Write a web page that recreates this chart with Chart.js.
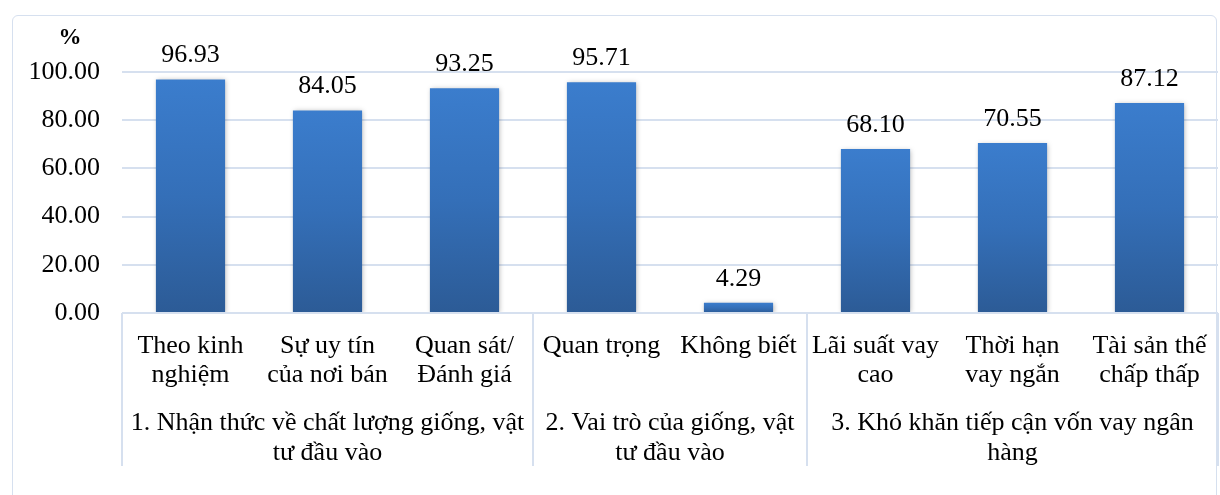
<!DOCTYPE html>
<html lang="vi">
<head>
<meta charset="utf-8">
<title>Nhận thức về giống, vật tư đầu vào và vốn vay</title>
<script src="https://cdn.jsdelivr.net/npm/chart.js@4.4.0/dist/chart.umd.min.js"></script>
<style>
  html, body { margin: 0; padding: 0; background: #ffffff; }
  #wrap { position: relative; width: 1220px; height: 495px; overflow: hidden; }
  #frame {
    position: absolute; left: 12px; top: 15px; width: 1205px; height: 520px;
    border: 1.5px solid #d6e0ef; border-radius: 6px; box-sizing: border-box;
  }
  #c { position: absolute; left: 0; top: 0; }
</style>
</head>
<body>
<div id="wrap">
  <div id="frame"></div>
  <canvas id="c" width="1220" height="495"></canvas>
</div>
<script>
// Category labels (one entry per bar, split into lines)
const CATEGORIES = [
  ["Theo kinh", "nghiệm"],
  ["Sự uy tín", "của nơi bán"],
  ["Quan sát/", "Đánh giá"],
  ["Quan trọng"],
  ["Không biết"],
  ["Lãi suất vay", "cao"],
  ["Thời hạn", "vay ngắn"],
  ["Tài sản thế", "chấp thấp"]
];
// Share of respondents, %
const VALUES = [96.93, 84.05, 93.25, 95.71, 4.29, 68.10, 70.55, 87.12];
// Outer group labels and how many categories each one spans
const GROUP_LABELS = [
  ["1. Nhận thức về chất lượng giống, vật", "tư đầu vào"],
  ["2. Vai trò của giống, vật", "tư đầu vào"],
  ["3. Khó khăn tiếp cận vốn vay ngân", "hàng"]
];
const GROUP_SIZES = [3, 2, 3];
// Value axis ticks
const Y_TICKS = [0, 20, 40, 60, 80, 100];
const UNIT_LABEL = "%";

const FONT = "'Liberation Serif', 'Times New Roman', serif";
const LINE_COLOR = "#d6e0ef";

function barGradient(context) {
  const chart = context.chart;
  const area = chart.chartArea;
  const y = chart.scales.y;
  if (!area || !y) return "#3670b8";
  const v = context.raw;
  const top = y.getPixelForValue(v);
  const bottom = y.getPixelForValue(0);
  const g = chart.ctx.createLinearGradient(0, top, 0, bottom);
  g.addColorStop(0, "#3b7dcd");
  g.addColorStop(0.5, "#346fb8");
  g.addColorStop(1, "#2c5b96");
  return g;
}

// Soft shadow behind the bars
const barShadow = {
  id: "barShadow",
  beforeDatasetDraw(chart) {
    const ctx = chart.ctx;
    ctx.save();
    ctx.shadowColor = "rgba(0,0,0,0.28)";
    ctx.shadowBlur = 5;
    ctx.shadowOffsetX = 1;
    ctx.shadowOffsetY = 1;
  },
  afterDatasetDraw(chart) {
    chart.ctx.restore();
  }
};

// Two-level category axis, value labels and the unit label
const annotations = {
  id: "annotations",
  afterDraw(chart) {
    const ctx = chart.ctx;
    const x = chart.scales.x;
    const area = chart.chartArea;
    const step = (area.right - area.left) / CATEGORIES.length;
    ctx.save();

    // axis line and group separators
    ctx.strokeStyle = LINE_COLOR;
    ctx.lineWidth = 2;
    ctx.beginPath();
    ctx.moveTo(area.left, area.bottom);
    ctx.lineTo(area.right, area.bottom);
    let idx = 0;
    const edges = [area.left];
    GROUP_SIZES.forEach(n => { idx += n; edges.push(area.left + idx * step); });
    edges.forEach(ex => {
      ctx.moveTo(ex, area.bottom);
      ctx.lineTo(ex, area.bottom + 153);
    });
    ctx.stroke();

    ctx.fillStyle = "#000000";
    ctx.textAlign = "center";
    ctx.textBaseline = "alphabetic";
    ctx.font = "26px " + FONT;

    // inner category labels
    CATEGORIES.forEach((lines, i) => {
      const cx = x.getPixelForValue(i);
      lines.forEach((t, k) => ctx.fillText(t, cx, area.bottom + 40 + k * 29));
    });

    // outer group labels
    GROUP_LABELS.forEach((lines, g) => {
      const cx = (edges[g] + edges[g + 1]) / 2;
      lines.forEach((t, k) => ctx.fillText(t, cx, area.bottom + 117 + k * 30));
    });

    // value labels above each bar
    const meta = chart.getDatasetMeta(0);
    meta.data.forEach((bar, i) => {
      ctx.fillText(VALUES[i].toFixed(2), bar.x, bar.y - 17);
    });

    // unit label
    ctx.font = "bold 23px " + FONT;
    ctx.fillText(UNIT_LABEL, 70, 44);
    ctx.restore();
  }
};

new Chart(document.getElementById("c"), {
  type: "bar",
  data: {
    labels: CATEGORIES.map(l => l.join(" ")),
    datasets: [{
      data: VALUES,
      backgroundColor: barGradient,
      borderWidth: 0,
      categoryPercentage: 1,
      barPercentage: 0.505
    }]
  },
  options: {
    responsive: false,
    animation: false,
    events: [],
    layout: { padding: { top: 72, right: 2, left: 0, bottom: 0 } },
    plugins: { legend: { display: false }, tooltip: { enabled: false } },
    scales: {
      x: {
        ticks: { display: false },
        grid: { display: false, drawTicks: false },
        border: { display: false },
        afterFit(scale) { scale.height = 182; }
      },
      y: {
        min: 0,
        max: 100,
        afterBuildTicks(scale) { scale.ticks = Y_TICKS.map(v => ({ value: v })); },
        ticks: {
          color: "#000000",
          padding: 22,
          font: { family: FONT, size: 26 },
          callback: v => Number(v).toFixed(2)
        },
        grid: { color: LINE_COLOR, lineWidth: 2, drawTicks: false },
        border: { display: false },
        afterFit(scale) { scale.width = 122; }
      }
    }
  },
  plugins: [barShadow, annotations]
});
</script>
</body>
</html>
